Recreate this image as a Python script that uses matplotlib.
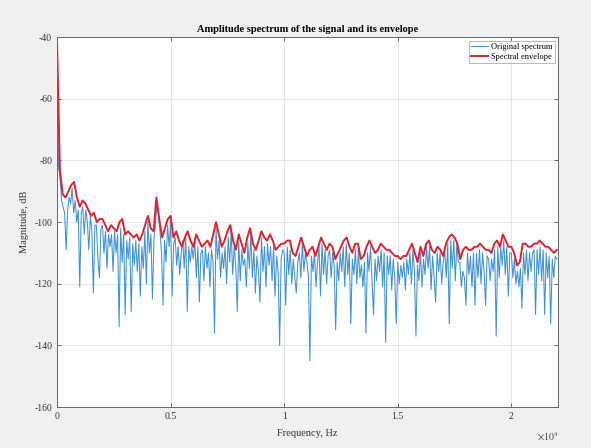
import numpy as np
import matplotlib
matplotlib.use('Agg')
import matplotlib.pyplot as plt

plt.rcParams['font.family'] = ['Liberation Serif', 'DejaVu Serif']
plt.rcParams['mathtext.fontset'] = 'stix'
plt.rcParams['axes.unicode_minus'] = False

# spectrum magnitude in dB, 15 points per kHz (0 .. 22000 Hz)
spec_db = [
    -40, -82, -86, -93, -95, -97, -109, -96, -92, -94, -89, -97, -93, -100, -96,
    -121, -97, -95, -104, -96, -100, -109, -98, -103, -123, -101, -101, -112, -118, -102,
    -101, -110, -103, -115, -104, -108, -104, -116, -103, -110, -104, -134, -102, -113, -104,
    -130, -106, -112, -105, -129, -107, -114, -106, -116, -107, -124, -108, -115, -103, -120,
    -100, -110, -104, -125, -106, -100, -94, -98, -103, -110, -127, -106, -113, -101, -108,
    -100, -124, -107, -105, -114, -108, -117, -110, -106, -115, -105, -129, -108, -113, -108,
    -112, -106, -118, -108, -126, -110, -109, -119, -108, -115, -110, -121, -109, -113, -136,
    -102, -112, -106, -118, -110, -115, -108, -120, -105, -113, -103, -117, -108, -114, -129,
    -106, -119, -109, -114, -112, -121, -107, -115, -104, -118, -109, -123, -111, -116, -126,
    -105, -116, -108, -121, -107, -114, -108, -119, -108, -124, -111, -116, -140, -112, -109,
    -110, -127, -108, -117, -109, -120, -112, -118, -123, -113, -110, -118, -107, -116, -110,
    -113, -118, -145, -111, -116, -110, -121, -113, -108, -124, -107, -117, -109, -120, -111,
    -109, -118, -110, -114, -135, -113, -119, -110, -116, -108, -121, -107, -117, -110, -133,
    -112, -117, -109, -120, -109, -118, -114, -121, -113, -136, -110, -116, -108, -119, -130,
    -112, -119, -111, -116, -109, -121, -110, -139, -111, -117, -111, -122, -112, -118, -133,
    -113, -120, -114, -118, -113, -122, -112, -117, -110, -120, -109, -116, -137, -114, -119,
    -110, -121, -112, -117, -108, -115, -108, -122, -111, -118, -126, -110, -116, -110, -120,
    -113, -109, -118, -107, -133, -106, -115, -106, -119, -107, -113, -113, -121, -116, -118,
    -127, -110, -117, -111, -121, -110, -127, -110, -118, -109, -120, -110, -116, -127, -111,
    -112, -119, -112, -116, -109, -137, -108, -118, -108, -114, -106, -117, -108, -124, -110,
    -110, -118, -112, -120, -116, -121, -115, -128, -110, -117, -109, -119, -110, -116, -110,
    -109, -130, -109, -117, -108, -119, -109, -130, -110, -118, -111, -133, -112, -118, -111,
    -112,
]

# spectral envelope in dB, 8 points per kHz (0 .. 22000 Hz)
env_db = [
    -41, -83, -91, -92, -90, -88, -87, -92,
    -95, -93, -94, -96, -98, -97, -100, -99,
    -99, -101, -103, -101, -102, -103, -100, -99,
    -104, -103, -104, -105, -104, -106, -104, -101,
    -98, -102, -103, -92, -99, -105, -102, -99,
    -98, -105, -103, -106, -108, -105, -103, -106,
    -108, -104, -106, -108, -107, -106, -108, -104,
    -100, -104, -108, -106, -103, -101, -106, -109,
    -104, -107, -110, -105, -102, -107, -109, -106,
    -103, -105, -106, -104, -106, -109, -108, -107,
    -107, -106, -106, -110, -111, -108, -105, -108,
    -111, -109, -108, -111, -108, -105, -107, -109,
    -107, -108, -112, -110, -108, -106, -105, -108,
    -110, -107, -107, -112, -111, -108, -106, -108,
    -110, -109, -107, -108, -109, -109, -110, -111,
    -111, -112, -111, -111, -109, -107, -110, -113,
    -108, -111, -107, -106, -109, -110, -108, -109,
    -111, -107, -105, -104, -105, -107, -112, -109,
    -108, -109, -109, -108, -108, -107, -108, -109,
    -109, -110, -107, -106, -108, -104, -106, -108,
    -108, -110, -114, -113, -107, -107, -108, -108,
    -107, -107, -106, -107, -108, -108, -109, -110,
    -109,
]

f_spec = np.arange(len(spec_db)) * 1000.0 / 15
f_env = np.arange(len(env_db)) * 1000.0 / 8

fig = plt.figure(figsize=(5.91, 4.48), dpi=100, facecolor='#f0f0f0')
ax = fig.add_axes([0.0965, 0.0915, 0.8475, 0.8255])
ax.set_facecolor('white')

ax.plot(f_spec, spec_db, color='#3d92d3', lw=0.75, label='Original spectrum')
ax.plot(f_env, env_db, color='#e3202b', lw=1.4, label='Spectral envelope')

ax.set_xlim(0, 22050)
ax.set_ylim(-160, -40)
ax.set_xticks([0, 5000, 10000, 15000, 20000])
ax.set_xticklabels(['0', '0.5', '1', '1.5', '2'])
ax.set_yticks(np.arange(-160, -39, 20))
ax.tick_params(direction='in', top=True, right=True, labelsize=7,
               colors='#555555', length=3, width=0.6)
for t in ax.get_xticklabels() + ax.get_yticklabels():
    t.set_color('#333333')
for s in ax.spines.values():
    s.set_color('#666666'); s.set_linewidth(0.7)
ax.grid(True, color='#e2e2e2', lw=0.6)

ax.set_title('Amplitude spectrum of the signal and its envelope',
             fontsize=7.5, fontweight='bold', pad=4)
ax.set_xlabel('Frequency, Hz', fontsize=7.5, labelpad=6, color='#333333')
ax.set_ylabel('Magnitude, dB', fontsize=7.5, labelpad=4, color='#333333')
ax.text(1.0, -0.065, r'$\times10^{4}$', transform=ax.transAxes,
        ha='right', va='top', fontsize=7, color='#444444')

leg = ax.legend(loc='upper right', fontsize=6, frameon=True, fancybox=False,
                borderpad=0.3, handlelength=2.0, handletextpad=0.3,
                labelspacing=0.2, borderaxespad=0.4)
leg.get_frame().set_edgecolor('#999999')
leg.get_frame().set_linewidth(0.6)

fig.savefig('out.png', dpi=100, facecolor=fig.get_facecolor())
